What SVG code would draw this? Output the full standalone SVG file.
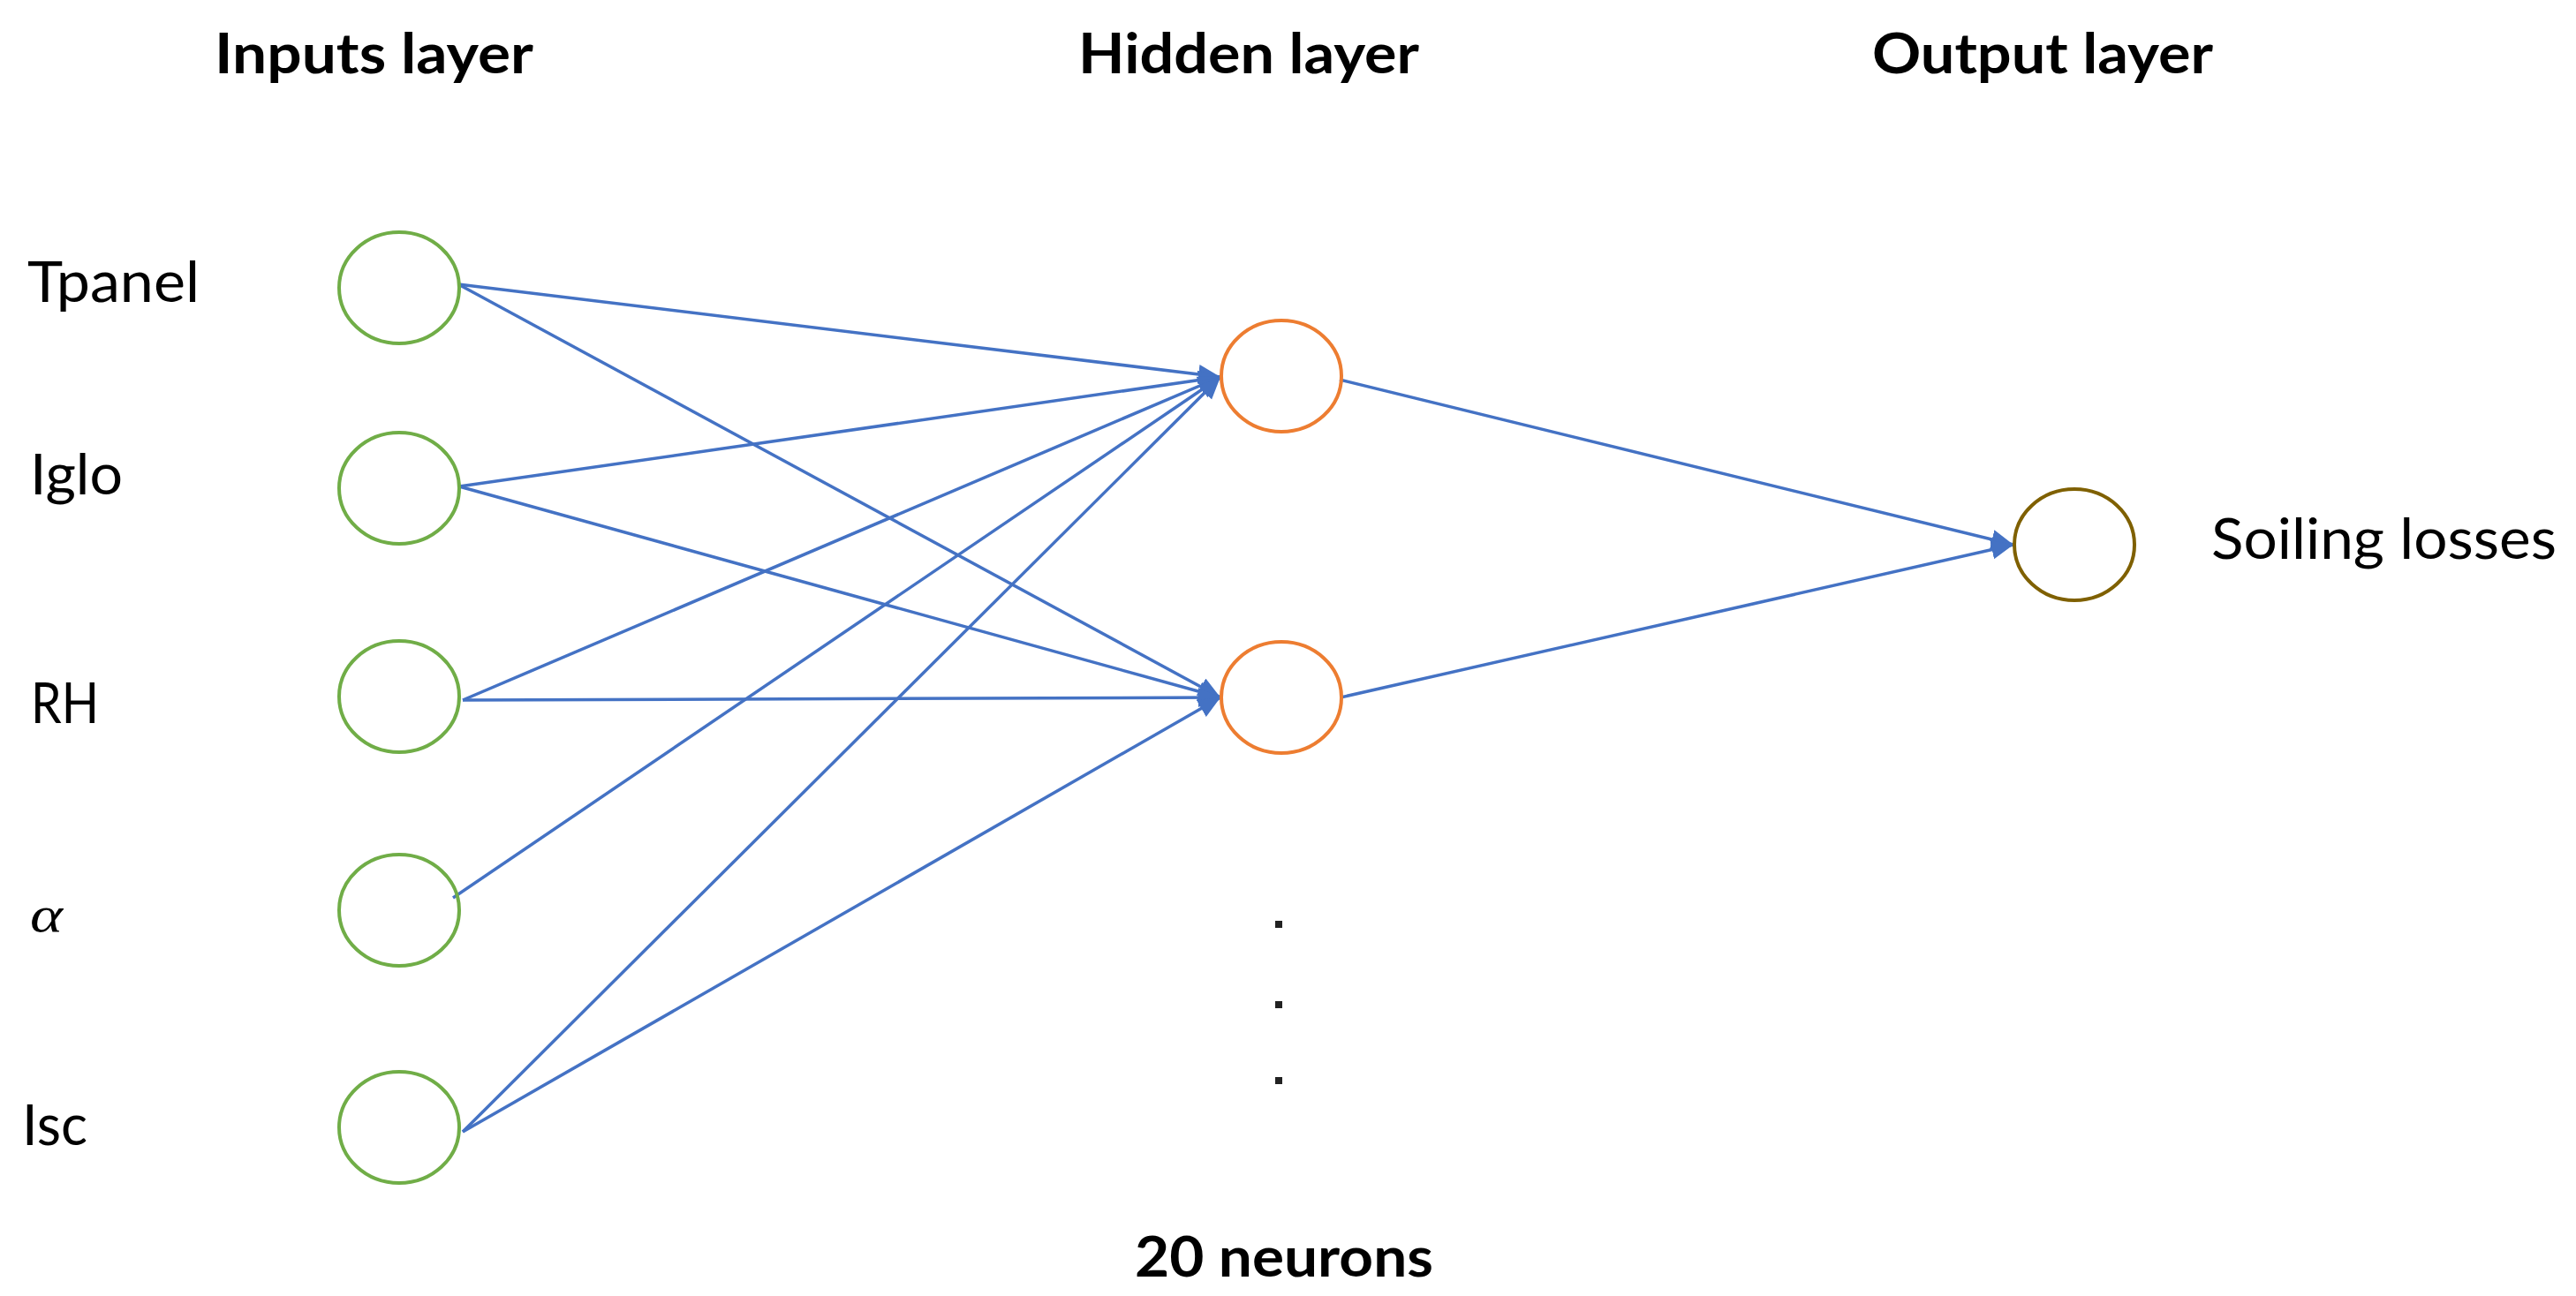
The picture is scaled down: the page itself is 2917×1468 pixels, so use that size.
<svg xmlns="http://www.w3.org/2000/svg" width="2917" height="1468" viewBox="0 0 2917 1468">
<style>
.t{font-family:Lato,"Open Sans","Liberation Sans",sans-serif;font-size:63px;fill:#000}
.b{font-weight:bold}
.in{fill:none;stroke:#70AD47;stroke-width:4}
.hid{fill:none;stroke:#ED7D31;stroke-width:4}
.out{fill:none;stroke:#7F6000;stroke-width:4}
.c{stroke:#4472C4;stroke-width:3.5;fill:none;marker-end:url(#ah)}
</style>
<defs>
<marker id="ah" markerUnits="userSpaceOnUse" markerWidth="28" markerHeight="24" refX="25" refY="11" orient="auto">
<path d="M0,0 L25,11 L0,22 Z" fill="#4472C4"/>
</marker>
</defs>
<rect width="2917" height="1468" fill="#fff"/>
<g id="titles">
<text class="t b" x="243" y="83" textLength="361" lengthAdjust="spacingAndGlyphs">Inputs layer</text>
<text class="t b" x="1221" y="83" textLength="386" lengthAdjust="spacingAndGlyphs">Hidden layer</text>
<text class="t b" x="2120" y="83" textLength="386" lengthAdjust="spacingAndGlyphs">Output layer</text>
<text class="t b" x="1285" y="1446" textLength="338" lengthAdjust="spacingAndGlyphs">20 neurons</text>
</g>
<g id="connectors">
<line class="c" x1="519" y1="322" x2="1382" y2="427"/>
<line class="c" x1="519" y1="322" x2="1382" y2="790"/>
<line class="c" x1="520" y1="551" x2="1382" y2="427"/>
<line class="c" x1="520" y1="551" x2="1382" y2="790"/>
<line class="c" x1="524" y1="793" x2="1382" y2="427"/>
<line class="c" x1="524" y1="793" x2="1382" y2="790"/>
<line class="c" x1="513" y1="1017" x2="1382" y2="427"/>
<line class="c" x1="524" y1="1282" x2="1382" y2="427"/>
<line class="c" x1="524" y1="1282" x2="1382" y2="790"/>
<line class="c" x1="1517" y1="430" x2="2280" y2="617"/>
<line class="c" x1="1518" y1="790" x2="2280" y2="617"/>
</g>
<g id="in-tpanel"><ellipse class="in" cx="452" cy="326" rx="68" ry="63"/><text class="t" x="31" y="342" textLength="195" lengthAdjust="spacingAndGlyphs">Tpanel</text></g>
<g id="in-iglo"><ellipse class="in" cx="452" cy="553" rx="68" ry="63"/><text class="t" x="34" y="560" textLength="105" lengthAdjust="spacingAndGlyphs">Iglo</text></g>
<g id="in-rh"><ellipse class="in" cx="452" cy="789" rx="68" ry="63"/><text class="t" x="35" y="819" textLength="77" lengthAdjust="spacingAndGlyphs">RH</text></g>
<g id="in-alpha"><ellipse class="in" cx="452" cy="1031" rx="68" ry="63"/><text x="34" y="1055" font-family="'Liberation Serif',serif" font-style="italic" font-size="56" textLength="37" lengthAdjust="spacingAndGlyphs">α</text></g>
<g id="in-isc"><ellipse class="in" cx="452" cy="1277" rx="68" ry="63"/><text class="t" x="25" y="1297" textLength="74" lengthAdjust="spacingAndGlyphs">Isc</text></g>
<g id="hidden-1"><ellipse class="hid" cx="1451" cy="426" rx="68" ry="63"/></g>
<g id="hidden-2"><ellipse class="hid" cx="1451" cy="790" rx="68" ry="63"/></g>
<g id="hidden-dots" fill="#222">
<rect x="1444" y="1043" width="8" height="8"/>
<rect x="1444" y="1134" width="8" height="8"/>
<rect x="1444" y="1220" width="8" height="8"/>
</g>
<g id="output"><ellipse class="out" cx="2349" cy="617" rx="68" ry="63"/><text class="t" x="2504" y="633" textLength="391" lengthAdjust="spacingAndGlyphs">Soiling losses</text></g>
</svg>
